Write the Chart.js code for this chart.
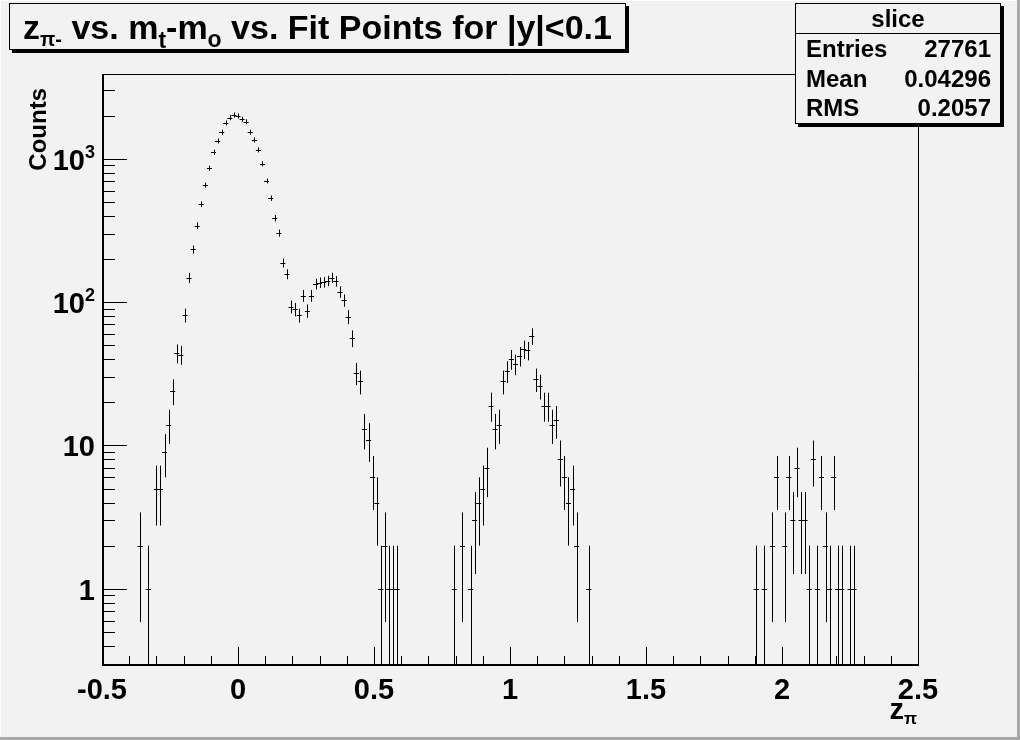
<!DOCTYPE html>
<html>
<head>
<meta charset="utf-8">
<script src="https://cdn.jsdelivr.net/npm/chart.js@4.4.1/dist/chart.umd.min.js"></script>
<style>
html,body{margin:0;padding:0;background:#f2f2f2;}
canvas{display:block;}
</style>
</head>
<body>
<canvas id="c" width="1020" height="740"></canvas>
<script>
// ---- data (bin centre z_pi, counts) ----
const zValues = [
  -0.360, -0.330,
  -0.300, -0.285, -0.270, -0.255, -0.240, -0.225, -0.210, -0.195, -0.180, -0.165,
  -0.150, -0.135, -0.120, -0.105, -0.090, -0.075, -0.060, -0.045, -0.030, -0.015,
   0.000,  0.015,  0.030,  0.045,  0.060,  0.075,  0.090,  0.105,  0.120,  0.135,
   0.150,  0.165,  0.180,  0.195,  0.210,  0.225,  0.240,  0.255,  0.270,  0.285,
   0.300,  0.315,  0.330,  0.345,  0.360,  0.375,  0.390,  0.405,  0.420,  0.435,
   0.450,  0.465,  0.480,  0.495,  0.510,  0.525,  0.540,  0.555,  0.570,  0.585,
   0.795,  0.825,  0.855,  0.870,  0.885,  0.900,  0.915,  0.930,  0.945,  0.960,
   0.975,  0.990,  1.005,  1.020,  1.035,  1.050,  1.065,  1.080,  1.095,  1.110,
   1.125,  1.140,  1.155,  1.170,  1.185,  1.200,  1.215,  1.230,  1.245,  1.290,
   1.905,  1.935,  1.965,  1.980,  2.010,  2.025,  2.040,  2.055,  2.070,  2.085,
   2.100,  2.115,  2.130,  2.145,  2.160,  2.175,  2.190,  2.205,  2.220,  2.250,
   2.265
];
const counts = [
  2, 1,
  5, 5, 9, 14, 24, 44, 43, 81, 148, 233,
  342, 482, 654, 859, 1110, 1330, 1530, 1776, 1933, 2018,
  1986, 1884, 1812, 1530, 1352, 1152, 920, 700, 531, 385,
  303, 188, 157, 93, 89, 81, 111, 87, 111, 134,
  137, 138, 141, 148, 140, 118, 103, 79, 56, 32,
  28, 13, 11, 6, 4, 1, 2, 1, 1, 1,
  1, 2, 1, 3, 4, 5, 7, 19, 13, 14,
  28, 33, 40, 37, 42, 47, 46, 58, 29, 26,
  19, 19, 14, 15, 8, 6, 4, 5, 2, 1,
  1, 1, 2, 6, 2, 6, 3, 7, 3, 3,
  1, 8, 1, 6, 2, 1, 6, 1, 1, 1,
  1
];
const xTickValues = [-0.5, 0, 0.5, 1, 1.5, 2, 2.5];
const xTickLabels = ['-0.5', '0', '0.5', '1', '1.5', '2', '2.5'];
const yTickValues = [1, 10, 100, 1000];
const yTickBases  = ['1', '10', '10', '10'];
const yTickExps   = ['', '', '2', '3'];
const statsLabels = ['Entries', 'Mean', 'RMS'];
const statsValues = ['27761', '0.04296', '0.2057'];

const BG = '#f2f2f2';
const FONT = '"Liberation Sans", Arial, Helvetica, sans-serif';
const BIN_HALF = 0.0075;

function font(sz){ return 'bold ' + sz + 'px ' + FONT; }

const rootPlugin = {
  id: 'rootStyle',
  beforeDraw(chart) {
    const ctx = chart.ctx;
    ctx.save();
    ctx.fillStyle = BG;
    ctx.fillRect(0, 0, chart.width, chart.height);
    ctx.fillStyle = '#ffffff';
    ctx.fillRect(0, 0, chart.width, 1);
    ctx.fillRect(0, 0, 1, chart.height);
    ctx.fillStyle = '#a8a8a8';
    ctx.fillRect(chart.width - 3, 0, 3, chart.height);
    ctx.fillRect(0, chart.height - 3, chart.width, 3);
    ctx.restore();
  },
  afterDatasetsDraw(chart) {
    const ctx = chart.ctx, a = chart.chartArea;
    const xs = chart.scales.x, ys = chart.scales.y;
    const meta = chart.getDatasetMeta(0);
    ctx.save();
    ctx.beginPath();
    ctx.rect(a.left, a.top, a.right - a.left, a.bottom - a.top);
    ctx.clip();
    ctx.strokeStyle = '#000';
    ctx.lineWidth = 1;
    ctx.beginPath();
    counts.forEach((n, i) => {
      const el = meta.data[i];
      const px = Math.round(el.x) + 0.5;
      const e = Math.sqrt(n);
      let yHi = ys.getPixelForValue(n + e);
      const lo = n - e;
      let yLo = lo > 0 ? ys.getPixelForValue(lo) : a.bottom;
      yHi = Math.min(yHi, el.y - 2.5);
      yLo = Math.max(yLo, el.y + 2.5);
      ctx.moveTo(px, yHi);
      ctx.lineTo(px, yLo);
      const yy = Math.round(el.y) + 0.5;
      ctx.moveTo(xs.getPixelForValue(zValues[i] - BIN_HALF) - 0.5, yy);
      ctx.lineTo(xs.getPixelForValue(zValues[i] + BIN_HALF) + 0.5, yy);
    });
    ctx.stroke();
    ctx.restore();
  },
  afterDraw(chart) {
    const ctx = chart.ctx, a = chart.chartArea;
    const xs = chart.scales.x, ys = chart.scales.y;
    ctx.save();
    ctx.strokeStyle = '#000';
    ctx.fillStyle = '#000';

    ctx.lineWidth = 1;
    ctx.beginPath();
    ctx.moveTo(a.left, a.top + 0.5); ctx.lineTo(a.right + 0.5, a.top + 0.5);
    ctx.lineTo(a.right + 0.5, a.bottom);
    ctx.stroke();
    ctx.lineWidth = 2;
    ctx.beginPath();
    ctx.moveTo(a.left + 1, a.top); ctx.lineTo(a.left + 1, a.bottom + 1);
    ctx.moveTo(a.left, a.bottom); ctx.lineTo(a.right + 1, a.bottom);
    ctx.stroke();

    ctx.lineWidth = 1;
    ctx.beginPath();
    for (let k = 0; k <= 30; k++) {
      const v = -0.5 + k * 0.1;
      const px = Math.round(xs.getPixelForValue(v)) + 0.5;
      const len = (k % 5 === 0) ? 18 : 9;
      ctx.moveTo(px, a.bottom); ctx.lineTo(px, a.bottom - len);
    }
    const ymin = ys.min, ymax = ys.max;
    [0.1, 1, 10, 100, 1000].forEach(d => {
      for (let m = 1; m <= 9; m++) {
        const v = d * m;
        if (v < ymin || v > ymax) continue;
        const py = Math.round(ys.getPixelForValue(v)) + 0.5;
        const len = (m === 1) ? 25 : 13;
        ctx.moveTo(a.left, py); ctx.lineTo(a.left + len, py);
      }
    });
    ctx.stroke();

    ctx.font = font(29);
    ctx.textAlign = 'center';
    ctx.textBaseline = 'alphabetic';
    xTickValues.forEach((v, i) => {
      ctx.fillText(xTickLabels[i], xs.getPixelForValue(v), 699);
    });
    yTickValues.forEach((v, i) => {
      const py = ys.getPixelForValue(v);
      let right = 95;
      ctx.textAlign = 'right';
      if (yTickExps[i]) {
        ctx.font = font(18);
        ctx.fillText(yTickExps[i], right, py - 1);
        right -= ctx.measureText(yTickExps[i]).width;
      }
      ctx.font = font(29);
      ctx.fillText(yTickBases[i], right, py + 11);
    });

    ctx.textAlign = 'left';
    ctx.font = font(17);
    const wPi = ctx.measureText('\u03c0').width;
    ctx.font = font(29);
    const wZ = ctx.measureText('z').width;
    const xStart = 917 - wPi - wZ;
    ctx.fillText('z', xStart, 719);
    ctx.font = font(17);
    ctx.fillText('\u03c0', xStart + wZ, 724);

    ctx.save();
    ctx.translate(46, 88);
    ctx.rotate(-Math.PI / 2);
    ctx.font = font(24);
    ctx.textAlign = 'right';
    ctx.fillText('Counts', 0, 0);
    ctx.restore();

    function pave(x0, y0, x1, y1) {
      ctx.fillStyle = '#000';
      ctx.fillRect(x0 + 3, y1, x1 - x0, 3);
      ctx.fillRect(x1, y0 + 3, 3, y1 - y0);
      ctx.fillStyle = BG;
      ctx.fillRect(x0, y0, x1 - x0, y1 - y0);
      ctx.strokeStyle = '#000';
      ctx.lineWidth = 1;
      ctx.strokeRect(x0 + 0.5, y0 + 0.5, x1 - x0 - 1, y1 - y0 - 1);
      ctx.fillStyle = '#000';
    }
    pave(9, 3, 626, 50);
    const segs = [
      {t: 'z', s: 34, dy: 0},
      {t: '\u03c0-', s: 20, dy: 7},
      {t: ' vs. m', s: 34, dy: 0},
      {t: 't', s: 23, dy: 9},
      {t: '-m', s: 34, dy: 0},
      {t: 'o', s: 23, dy: 8},
      {t: ' vs. Fit Points for |y|<0.1', s: 34, dy: 0}
    ];
    let tw = 0;
    segs.forEach(s => { ctx.font = font(s.s); s.w = ctx.measureText(s.t).width; tw += s.w; });
    let tx = 317.5 - tw / 2;
    ctx.textAlign = 'left';
    segs.forEach(s => { ctx.font = font(s.s); ctx.fillText(s.t, tx, 39 + s.dy); tx += s.w; });

    pave(795, 3, 1001, 124);
    ctx.beginPath();
    ctx.moveTo(795, 33.5); ctx.lineTo(1001, 33.5);
    ctx.stroke();
    ctx.font = font(24);
    ctx.textAlign = 'center';
    ctx.fillText('slice', 898, 27);
    const rowY = [57, 87, 116];
    statsLabels.forEach((l, i) => {
      ctx.textAlign = 'left';
      ctx.fillText(l, 806, rowY[i]);
      ctx.textAlign = 'right';
      ctx.fillText(statsValues[i], 991, rowY[i]);
    });
    ctx.restore();
  }
};

new Chart(document.getElementById('c'), {
  type: 'scatter',
  data: {
    datasets: [{
      label: 'slice',
      data: zValues.map((z, i) => ({x: z, y: counts[i]})),
      pointStyle: 'line',
      pointRadius: 0,
      pointHoverRadius: 0,
      borderColor: '#000',
      backgroundColor: '#000',
      borderWidth: 1,
      showLine: false
    }]
  },
  options: {
    responsive: false,
    devicePixelRatio: 1,
    animation: false,
    events: [],
    layout: { padding: { left: 102, right: 102, top: 74, bottom: 75 } },
    plugins: { legend: { display: false }, tooltip: { enabled: false } },
    scales: {
      x: { type: 'linear', min: -0.5, max: 2.5, display: false },
      y: { type: 'logarithmic', min: 0.2944, max: 3899, display: false }
    }
  },
  plugins: [rootPlugin]
});
</script>
</body>
</html>
